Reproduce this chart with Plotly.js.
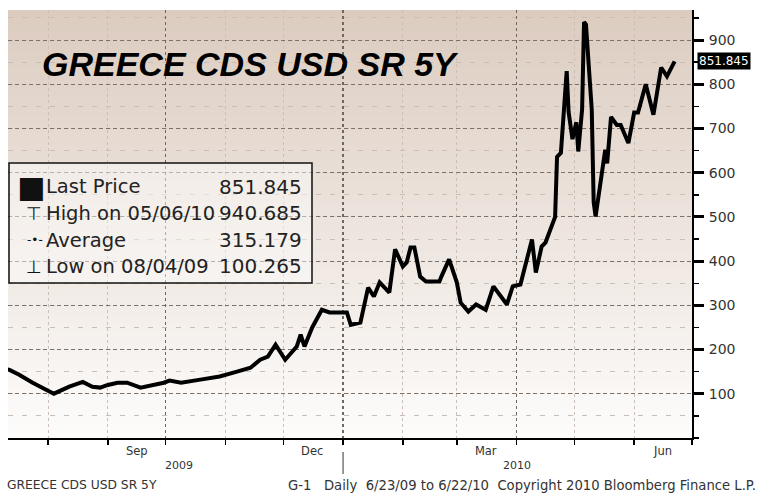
<!DOCTYPE html>
<html>
<head>
<meta charset="utf-8">
<script src="https://cdn.plot.ly/plotly-3.0.1.min.js"></script>
<style>html,body{margin:0;padding:0;background:#fff;}#chart{width:757px;height:495px;}</style>
</head>
<body>
<div id="chart"></div>
<script>
// ---- data ----
var dates = ['2009-07-10','2009-07-12','2009-07-17','2009-07-24','2009-08-04','2009-08-07','2009-08-12','2009-08-19','2009-08-24','2009-08-28','2009-09-01','2009-09-06','2009-09-11','2009-09-18','2009-09-25','2009-09-30','2009-10-03','2009-10-09','2009-10-19','2009-10-29','2009-11-07','2009-11-14','2009-11-19','2009-11-23','2009-11-27','2009-12-02','2009-12-08','2009-12-10','2009-12-12','2009-12-16','2009-12-21','2009-12-25','2010-01-01','2010-01-03','2010-01-05','2010-01-10','2010-01-14','2010-01-17','2010-01-20','2010-01-25','2010-01-28','2010-02-01','2010-02-03','2010-02-05','2010-02-07','2010-02-10','2010-02-13','2010-02-20','2010-02-21','2010-02-25','2010-03-01','2010-03-03','2010-03-07','2010-03-11','2010-03-16','2010-03-20','2010-03-27','2010-03-30','2010-04-03','2010-04-09','2010-04-11','2010-04-14','2010-04-16','2010-04-19','2010-04-21','2010-04-22','2010-04-24','2010-04-27','2010-04-28','2010-04-30','2010-05-02','2010-05-03','2010-05-05','2010-05-06','2010-05-07','2010-05-10','2010-05-11','2010-05-12','2010-05-15','2010-05-17','2010-05-18','2010-05-20','2010-05-23','2010-05-25','2010-05-29','2010-06-01','2010-06-03','2010-06-07','2010-06-11','2010-06-15','2010-06-18','2010-06-22'];
var cdsValues = [156,154,143,125,100.265,107,116,127,116,114,120,125,125,114,120,125,130,125,132,139,150,159,177,184,211,177,207,234,207,250,290,284,284,284,256,261,340,320,352,329,427,388,397,431,431,365,354,354,365,404,352,306,286,302,290,343,302,343,347,449,374,433,442,478,500,636,645,830,737,676,714,648,743,940.685,935,743,533,501,591,652,621,726,708,708,667,736,736,800,731,838,818,851.845];

var monthTickVals = ['2009-09-16','2009-12-16','2010-03-16','2010-06-16'];
var monthTickText = ['Sep','Dec','Mar','Jun'];
var yearLabels = ['2009','2010'];
var yTickVals = [100,200,300,400,500,600,700,800,900];
var yTickText = ['100','200','300','400','500','600','700','800','900'];

var legendSymbols = ['\u25A0','\u22A4','-\u2022-','\u22A5'];
var legendLabels = ['Last Price','High on 05/06/10','Average','Low on 08/04/09'];
var legendValues = ['851.845','940.685','315.179','100.265'];
var lastPrice = 851.845;

var chartTitle = 'GREECE CDS USD SR 5Y';
var footerLeft = 'GREECE CDS USD SR 5Y';
var footerRight = 'G-1\u00a0\u00a0\u00a0Daily\u00a0\u00a06/23/09 to 6/22/10\u00a0\u00a0Copyright 2010 Bloomberg Finance L.P.';

(function(){
// ---- layout helpers ----
var W = 757, H = 495, ML = 8, MR = 65, MT = 10, MB = 57;
var PW = W - ML - MR, PH = H - MT - MB;
function px(x){ return (x - ML) / PW; }
function py(y){ return (H - MB - y) / PH; }
var xRange = ['2009-07-11 05:00','2010-07-01'];
var font = 'DejaVu Sans, Verdana, sans-serif';

var shapes = [];
// vertical gradient background
var N = 60, cTop = [220,204,192], cBot = [253,252,251];
for (var i = 0; i < N; i++) {
  var t = i / (N - 1);
  var c = cTop.map(function(v, k){ return Math.round(v + (cBot[k] - v) * t); });
  shapes.push({type:'rect', xref:'paper', yref:'paper', x0:0, x1:1,
    y1: 1 - i / N, y0: 1 - (i + 1) / N - 0.002,
    fillcolor:'rgb(' + c.join(',') + ')', line:{width:0}, layer:'below'});
}
// legend box
shapes.push({type:'rect', xref:'paper', yref:'paper', x0:px(9), x1:px(312), y0:py(283), y1:py(163),
  fillcolor:'rgba(255,255,255,0.45)', line:{color:'#111', width:1.5}, layer:'above'});
// year divider
shapes.push({type:'line', xref:'x', yref:'paper', x0:'2010-01-01', x1:'2010-01-01', y0:py(452), y1:py(474),
  line:{color:'#333', width:1}});

var annotations = [];
annotations.push({xref:'paper', yref:'paper', x:px(40), y:py(64), xanchor:'left', yanchor:'middle',
  text:'<b><i>' + chartTitle + '</i></b>', showarrow:false,
  font:{family:'Liberation Sans, Arial, sans-serif', size:34, color:'#000'}});

var rowY = [187, 213, 240, 266];
var symX = [31, 34, 35, 34], symSize = [30, 18, 12, 18];
for (var r = 0; r < legendLabels.length; r++) {
  annotations.push({xref:'paper', yref:'paper', x:px(symX[r]), y:py(rowY[r]), xanchor:'center', yanchor:'middle',
    text: legendSymbols[r], showarrow:false,
    font:{family:font, size: symSize[r], color:'#111'}});
  annotations.push({xref:'paper', yref:'paper', x:px(44), y:py(rowY[r]), xanchor:'left', yanchor:'middle',
    text: legendLabels[r], showarrow:false, font:{family:font, size:19.5, color:'#222'}});
  annotations.push({xref:'paper', yref:'paper', x:px(304), y:py(rowY[r]), xanchor:'right', yanchor:'middle',
    text: legendValues[r], showarrow:false, font:{family:font, size:20, color:'#222'}});
}
// year labels centred on visible part of each year
function mid(a, b){ return new Date((new Date(a).getTime() + new Date(b).getTime()) / 2).toISOString().slice(0,10); }
var yearMids = [mid('2009-07-11T05:00:00Z', '2010-01-01T00:00:00Z'), mid('2010-01-01T00:00:00Z', '2010-07-01T00:00:00Z')];
for (var k = 0; k < yearLabels.length; k++) {
  annotations.push({xref:'x', yref:'paper', x:yearMids[k], y:py(466), xanchor:'center', yanchor:'middle', xshift: k === 0 ? 4 : 0,
    text:yearLabels[k], showarrow:false, font:{family:font, size:11, color:'#333'}});
}
// footer
annotations.push({xref:'paper', yref:'paper', x:px(5), y:py(485), xanchor:'left', yanchor:'middle',
  text:footerLeft, showarrow:false, font:{family:font, size:12.3, color:'#333'}});
annotations.push({xref:'paper', yref:'paper', x:px(758), y:py(485), xanchor:'right', yanchor:'middle',
  text:footerRight, showarrow:false, font:{family:font, size:13.2, color:'#333'}});
// last price tag
annotations.push({xref:'paper', yref:'y', x:1, y:lastPrice, xanchor:'left', yanchor:'middle', xshift:5,
  text:legendValues[0], showarrow:false, bgcolor:'#000', borderpad:1,
  font:{family:font, size:12, color:'#fff'}});

var traces = [
  {x:dates, y:cdsValues, type:'scatter', mode:'lines', line:{color:'#000', width:4}, hoverinfo:'x+y'},
  {x:[xRange[0]], y:[null], type:'scatter', mode:'lines', xaxis:'x2', hoverinfo:'skip', showlegend:false}
];

var layout = {
  width:W, height:H, margin:{l:ML, r:MR, t:MT, b:MB, pad:0},
  paper_bgcolor:'#fff', plot_bgcolor:'rgba(0,0,0,0)', showlegend:false,
  font:{family:font, color:'#333'},
  xaxis:{type:'date', range:xRange, tickmode:'array', tickvals:monthTickVals, ticktext:monthTickText,
    ticks:'', showgrid:false, zeroline:false, showline:true, linecolor:'#000', linewidth:2,
    tickfont:{family:font, size:11.5, color:'#333'}, ticklabelstandoff:1,
    minor:{tickmode:'linear', tick0:'2009-08-01', dtick:'M1', ticks:'outside', ticklen:5, tickwidth:1.5, tickcolor:'#000',
      showgrid:true, gridcolor:'#cbbfb7', griddash:'dot', gridwidth:1}},
  xaxis2:{type:'date', overlaying:'x', range:xRange, tickmode:'linear', tick0:'2009-10-01', dtick:'M3',
    showticklabels:false, ticks:'', showgrid:true, gridcolor:'#6e6661', griddash:'dot', gridwidth:1.2, zeroline:false, showline:false},
  yaxis:{side:'right', range:[0, 968], tickmode:'array', tickvals:yTickVals, ticktext:yTickText,
    ticks:'outside', ticklen:10, tickwidth:3, tickcolor:'#000', showline:true, linecolor:'#000', linewidth:2,
    showgrid:true, gridcolor:'#7a726d', griddash:'4px,3px', gridwidth:1, zeroline:false,
    tickfont:{family:font, size:14, color:'#333'}, ticklabelstandoff:2,
    minor:{tickmode:'linear', tick0:0, dtick:50, ticks:'outside', ticklen:5, tickwidth:1.5, tickcolor:'#000',
      showgrid:true, gridcolor:'#c9beb6', griddash:'5px,9px', gridwidth:1}},
  shapes:shapes, annotations:annotations
};

Plotly.newPlot('chart', traces, layout, {displayModeBar:false, staticPlot:true});
})();
</script>
</body>
</html>
